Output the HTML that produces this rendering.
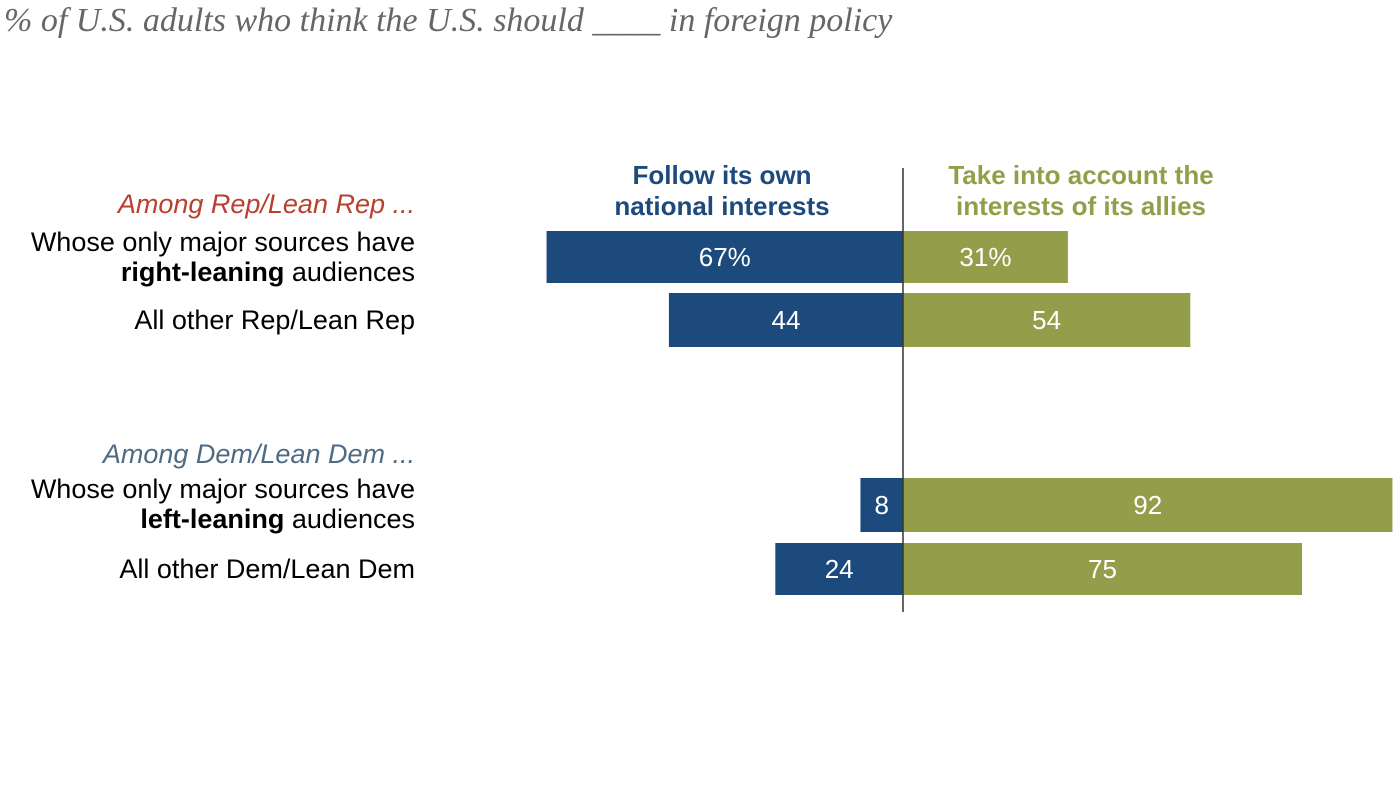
<!DOCTYPE html>
<html><head><meta charset="utf-8"><style>
body{margin:0;background:#fff;width:1400px;height:789px;overflow:hidden;font-family:"Liberation Sans",sans-serif}
svg text{font-family:"Liberation Sans",sans-serif}
</style></head><body>
<svg width="1400" height="789">
<text x="4" y="31" font-style="italic" font-size="34" fill="#666" style="font-family:'Liberation Serif',serif">% of U.S. adults who think the U.S. should ____ in foreign policy</text>
<text x="722" y="184" text-anchor="middle" font-weight="bold" font-size="26" fill="#1c4a7c">Follow its own</text>
<text x="722" y="215" text-anchor="middle" font-weight="bold" font-size="26" fill="#1c4a7c">national interests</text>
<text x="1081" y="184" text-anchor="middle" font-weight="bold" font-size="26" fill="#949e4a">Take into account the</text>
<text x="1081" y="215" text-anchor="middle" font-weight="bold" font-size="26" fill="#949e4a">interests of its allies</text>
<text x="415" y="213" text-anchor="end" font-style="italic" font-size="27" fill="#b9402f">Among Rep/Lean Rep ...</text>
<text x="415" y="463" text-anchor="end" font-style="italic" font-size="27" fill="#4f6b84">Among Dem/Lean Dem ...</text>
<g id="bars"></g>
<line x1="903" y1="168" x2="903" y2="612" stroke="#333" stroke-width="1.5"/>
</svg>
<script>
const categories=["Whose only major sources have|right-leaning| audiences","All other Rep/Lean Rep","Whose only major sources have|left-leaning| audiences","All other Dem/Lean Dem"];
const ownInterests=[67,44,8,24];
const allies=[31,54,92,75];
const ownLabels=["67%","44","8","24"];
const allyLabels=["31%","54","92","75"];
const rowTop=[231,293,478,543],rowH=[52,54,54,52];
const cx=903,k=5.32;
const x=v=>v*k;
const g=document.getElementById('bars');
const NS="http://www.w3.org/2000/svg";
function mk(t,a,txt){const e=document.createElementNS(NS,t);for(const n in a)e.setAttribute(n,a[n]);if(txt!==undefined)e.textContent=txt;g.appendChild(e);return e;}
categories.forEach((c,i)=>{
  const y=rowTop[i],h=rowH[i],mid=y+h/2+9;
  const b1=mk('rect',{x:cx-x(ownInterests[i]),y:y,width:x(ownInterests[i]),height:h,fill:'#1c4a7c'});
  
  
  const b2=mk('rect',{x:cx,y:y,width:x(allies[i]),height:h,fill:'#949e4a'});
  
  
  const t1=mk('text',{x:cx-x(ownInterests[i])/2,y:mid,'text-anchor':'middle','font-size':26,fill:'#fff'},ownLabels[i]);
  
  
  const t2=mk('text',{x:cx+x(allies[i])/2,y:mid,'text-anchor':'middle','font-size':26,fill:'#fff'},allyLabels[i]);
  
  
  const p=c.split('|');
  if(p.length>1){
    const l1=mk('text',{x:415,y:y+20,'text-anchor':'end','font-size':27,fill:'#000'},p[0]);
    
    
    const l2=mk('text',{x:415,y:y+50,'text-anchor':'end','font-size':27,fill:'#000'});
    
    
    const s=document.createElementNS(NS,'tspan');s.setAttribute('font-weight','bold');s.textContent=p[1];l2.appendChild(s);
    l2.appendChild(document.createTextNode(p[2]));
  } else {
    const l=mk('text',{x:415,y:mid,'text-anchor':'end','font-size':27,fill:'#000'},c);
    
    
  }
});
</script>
</body></html>
